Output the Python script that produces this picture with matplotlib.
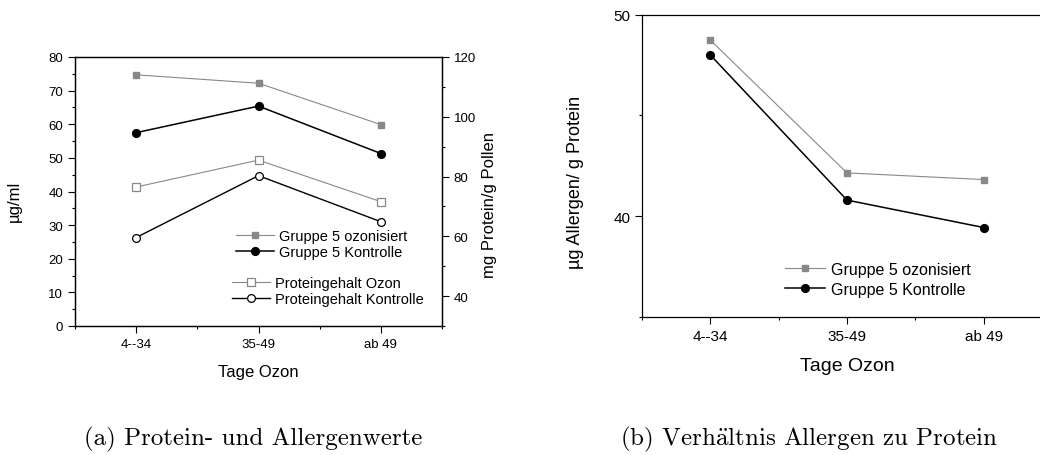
import matplotlib
matplotlib.use("Agg")
import matplotlib.pyplot as plt
from matplotlib.ticker import MultipleLocator
import numpy as np

plt.rcParams['font.family'] = ['Liberation Sans', 'DejaVu Sans']
plt.rcParams['mathtext.fontset'] = 'cm'

categories = ["4--34", "35-49", "ab 49"]
# (a) Allergen in µg/ml (left axis)
g5_ozon = [74.7, 72.2, 59.9]
g5_kontrolle = [57.5, 65.4, 51.3]
# (a) Protein in mg Protein/g Pollen (right axis)
protein_ozon = [76.5, 85.5, 71.6]
protein_kontrolle = [59.6, 80.3, 64.9]
# (b) Verhältnis µg Allergen / g Protein
ratio_ozon = [48.74, 42.15, 41.82]
ratio_kontrolle = [48.0, 40.8, 39.44]

grey = '#888888'
x = np.arange(len(categories))

fig = plt.figure(figsize=(10.4, 4.56), dpi=100)

def style_axis(ax, labelsize):
    ax.tick_params(which='major', direction='out', length=5, width=0.8, labelsize=labelsize)
    ax.tick_params(which='minor', direction='out', length=2.5, width=0.8)
    for s in ax.spines.values():
        s.set_linewidth(0.9)

# ---------- (a) ----------
ax1 = fig.add_axes([75/1040, 1-327/456, (442-75)/1040, (327-58)/456])
ax2 = ax1.twinx()
l1, = ax1.plot(x, g5_ozon, color=grey, lw=0.8, marker='s', ms=4.3, mfc=grey, mec=grey)
l2, = ax1.plot(x, g5_kontrolle, color='black', lw=1.1, marker='o', ms=5.6, mfc='black', mec='black')
l3, = ax2.plot(x, protein_ozon, color=grey, lw=0.8, marker='s', ms=5.2, mfc='white', mec=grey, mew=0.9)
l4, = ax2.plot(x, protein_kontrolle, color='black', lw=1.0, marker='o', ms=5.6, mfc='white', mec='black', mew=0.9)
ax1.set_xlim(-0.5, 2.5)
ax1.set_ylim(0, 80)
ax2.set_ylim(30, 120)
ax1.set_xticks(x)
ax1.set_xticklabels(categories)
ax1.xaxis.set_minor_locator(MultipleLocator(0.5))
ax1.yaxis.set_major_locator(MultipleLocator(10))
ax1.yaxis.set_minor_locator(MultipleLocator(5))
ax2.set_yticks([40, 60, 80, 100, 120])
ax2.yaxis.set_minor_locator(MultipleLocator(10))
style_axis(ax1, 9.5)
style_axis(ax2, 9.5)
ax1.set_xlabel("Tage Ozon", fontsize=12, labelpad=10)
ax1.set_ylabel("µg/ml", fontsize=12)
ax1.yaxis.set_label_coords(-0.144, 0.468)
ax2.set_ylabel("mg Protein/g Pollen", fontsize=12)
ax2.yaxis.set_label_coords(1.109, 0.453)

leg_kw = dict(frameon=False, fontsize=10.5, handlelength=2.6, handletextpad=0.35,
              labelspacing=0.15, borderaxespad=0, borderpad=0)
fig.legend([l1, l2], ["Gruppe 5 ozonisiert", "Gruppe 5 Kontrolle"],
           loc='upper left', bbox_to_anchor=(236/1040, 1-230/456), **leg_kw)
fig.legend([l3, l4], ["Proteingehalt Ozon", "Proteingehalt Kontrolle"],
           loc='upper left', bbox_to_anchor=(232/1040, 1-277/456), **leg_kw)

# ---------- (b) ----------
ax3 = fig.add_axes([642/1040, 1-318/456, (1052-642)/1040, (318-15.7)/456])
m1, = ax3.plot(x, ratio_ozon, color=grey, lw=0.8, marker='s', ms=4.7, mfc=grey, mec=grey)
m2, = ax3.plot(x, ratio_kontrolle, color='black', lw=1.1, marker='o', ms=5.6, mfc='black', mec='black')
ax3.set_xlim(-0.5, 2.5)
ax3.set_ylim(35, 50)
ax3.set_xticks(x)
ax3.set_xticklabels(categories)
ax3.xaxis.set_minor_locator(MultipleLocator(0.5))
ax3.yaxis.set_major_locator(MultipleLocator(10))
ax3.yaxis.set_minor_locator(MultipleLocator(5))
style_axis(ax3, 11)
ax3.set_xlabel("Tage Ozon", fontsize=14, labelpad=10)
ax3.set_ylabel("µg Allergen/ g Protein", fontsize=13)
ax3.yaxis.set_label_coords(-0.141, 0.45)
fig.legend([m1, m2], ["Gruppe 5 ozonisiert", "Gruppe 5 Kontrolle"],
           loc='upper left', bbox_to_anchor=(785/1040, 1-263/456),
           frameon=False, fontsize=11.5, handlelength=2.5, handletextpad=0.35,
           labelspacing=0.3, borderaxespad=0, borderpad=0)

# ---------- captions ----------
fig.text(253/1040, 1-445/456, "(a) Protein- und Allergenwerte",
         family=['cmr10', 'DejaVu Serif'], fontsize=18, ha='center', va='baseline')
fig.text(809/1040, 1-445/456, r"(b) Verh$\mathrm{\ddot{a}}$ltnis Allergen zu Protein",
         family=['cmr10', 'DejaVu Serif'], fontsize=18, ha='center', va='baseline')

fig.savefig("out.png", dpi=100)
